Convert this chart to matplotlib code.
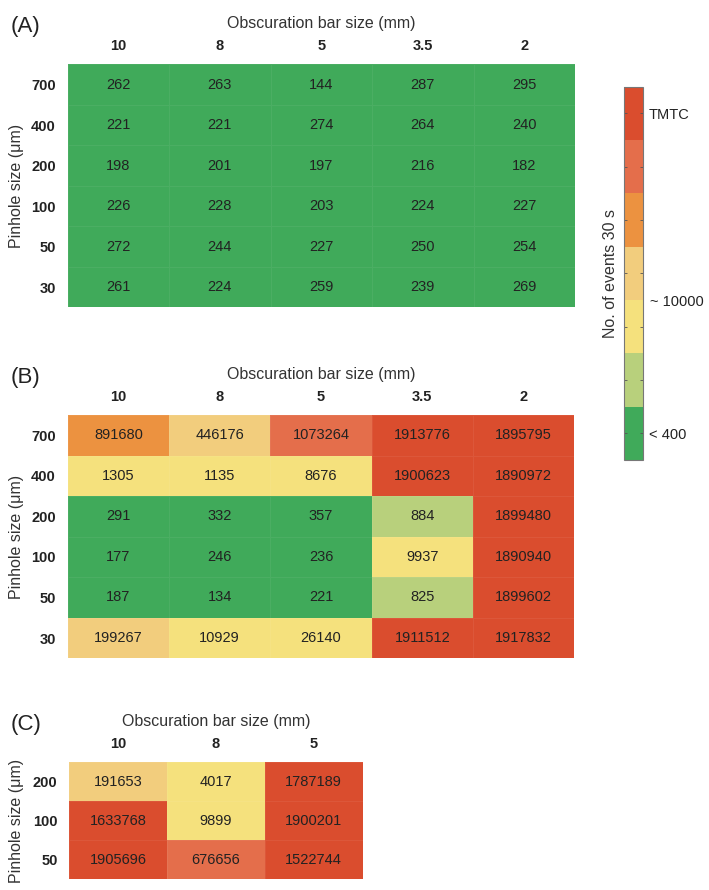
import numpy as np
import matplotlib
matplotlib.use("Agg")
import matplotlib.pyplot as plt
from matplotlib.colors import ListedColormap, BoundaryNorm
import matplotlib as mpl

plt.rcParams['font.family'] = ['Liberation Sans', 'DejaVu Sans']

# ---------------- data ----------------
bar_sizes_AB = ["10", "8", "5", "3.5", "2"]
bar_sizes_C = ["10", "8", "5"]
pinholes_AB = ["700", "400", "200", "100", "50", "30"]
pinholes_C = ["200", "100", "50"]

values_A = [
    [262, 263, 144, 287, 295],
    [221, 221, 274, 264, 240],
    [198, 201, 197, 216, 182],
    [226, 228, 203, 224, 227],
    [272, 244, 227, 250, 254],
    [261, 224, 259, 239, 269],
]
values_B = [
    [891680, 446176, 1073264, 1913776, 1895795],
    [1305, 1135, 8676, 1900623, 1890972],
    [291, 332, 357, 884, 1899480],
    [177, 246, 236, 9937, 1890940],
    [187, 134, 221, 825, 1899602],
    [199267, 10929, 26140, 1911512, 1917832],
]
values_C = [
    [191653, 4017, 1787189],
    [1633768, 9899, 1900201],
    [1905696, 676656, 1522744],
]
# colour class of each cell (0 = lowest / green ... 6 = TMTC / red)
level_A = [[0] * 5 for _ in range(6)]
level_B = [
    [4, 3, 5, 6, 6],
    [2, 2, 2, 6, 6],
    [0, 0, 0, 1, 6],
    [0, 0, 0, 2, 6],
    [0, 0, 0, 1, 6],
    [3, 2, 2, 6, 6],
]
level_C = [
    [3, 2, 6],
    [6, 2, 6],
    [6, 5, 6],
]
level_colors = ["#40AA5A", "#B8D07C", "#F5E17D", "#F2CD7D", "#EC9240", "#E46E4B", "#DA4D2E"]
cbar_major_labels = ["< 400", "", "", "", "", "", "TMTC"]
cbar_mid_tick = 3.0
cbar_mid_label = "~ 10000"

# ---------------- figure ----------------
W, H = 709, 890
fig = plt.figure(figsize=(W / 100, H / 100), dpi=100)

cmap = ListedColormap(level_colors)
norm = BoundaryNorm(np.arange(0, len(level_colors) + 1), cmap.N)
TXT = "#222222"


def px_axes(x0, y0, x1, y1):
    return fig.add_axes([x0 / W, 1 - y1 / H, (x1 - x0) / W, (y1 - y0) / H])


def panel(box, values, levels, cols, rows, letter):
    x0, y0, x1, y1 = box
    ax = px_axes(x0, y0, x1, y1)
    lv = np.array(levels, dtype=float) + 0.5
    ax.pcolormesh(lv, cmap=cmap, norm=norm, edgecolors=(1, 1, 1, 0.06), linewidth=0.6)
    ax.set_xlim(0, len(cols))
    ax.set_ylim(len(rows), 0)
    for i, row in enumerate(values):
        for j, v in enumerate(row):
            ax.text(j + 0.5, i + 0.5, str(v), ha="center", va="center",
                    fontsize=10.5, color=TXT)
    ax.xaxis.tick_top()
    ax.set_xticks(np.arange(len(cols)) + 0.5)
    ax.set_xticklabels(cols, fontweight="bold", fontsize=10.5, color=TXT)
    ax.set_yticks(np.arange(len(rows)) + 0.5)
    ax.set_yticklabels(rows, fontweight="bold", fontsize=10.5, color=TXT)
    ax.tick_params(length=0, pad=8.5)
    ax.tick_params(axis="x", pad=8)
    for s in ax.spines.values():
        s.set_visible(False)
    # axis titles
    cx = (x0 + x1) / 2
    fig.text(cx / W, 1 - (y0 - 41) / H, "Obscuration bar size (mm)",
             ha="center", va="center", fontsize=11.5, color="#333333")
    fig.text(17 / W, 1 - ((y0 + y1) / 2) / H, "Pinhole size (μm)", rotation=90,
             ha="center", va="center", fontsize=11.5, color="#333333")
    fig.text(11 / W, 1 - (y0 - 37.5) / H, letter, ha="left", va="center",
             fontsize=16, color="#222222")
    return ax


panel((67.7, 64.3, 575, 307.3), values_A, level_A, bar_sizes_AB, pinholes_AB, "(A)")
panel((67.7, 415, 574.3, 658.3), values_B, level_B, bar_sizes_AB, pinholes_AB, "(B)")
panel((69.3, 762.3, 362.7, 879.3), values_C, level_C, bar_sizes_C, pinholes_C, "(C)")

# colour bar
cax = px_axes(624, 86.7, 642.7, 460)
cb = mpl.colorbar.ColorbarBase(cax, cmap=cmap, norm=norm, orientation="vertical")
cb.set_ticks(np.arange(len(level_colors)) + 0.5)
cb.set_ticklabels(cbar_major_labels)
cax.set_yticks([cbar_mid_tick], minor=True)
cax.set_yticklabels([cbar_mid_label], minor=True)
cax.tick_params(which="major", left=True, right=True, direction="in", length=2.5,
                width=0.6, color="#555555", labelsize=10.5, labelcolor="#222222", pad=4.5)
cax.tick_params(which="minor", left=False, right=True, length=0,
                labelsize=10.5, labelcolor="#222222", pad=5)
cb.outline.set_edgecolor("#777777")
cb.outline.set_linewidth(0.8)
cax.yaxis.set_label_position("left")
cb.set_label("No. of events 30 s", fontsize=11.5, color="#333333", labelpad=4)

fig.savefig("out.png", dpi=100)
